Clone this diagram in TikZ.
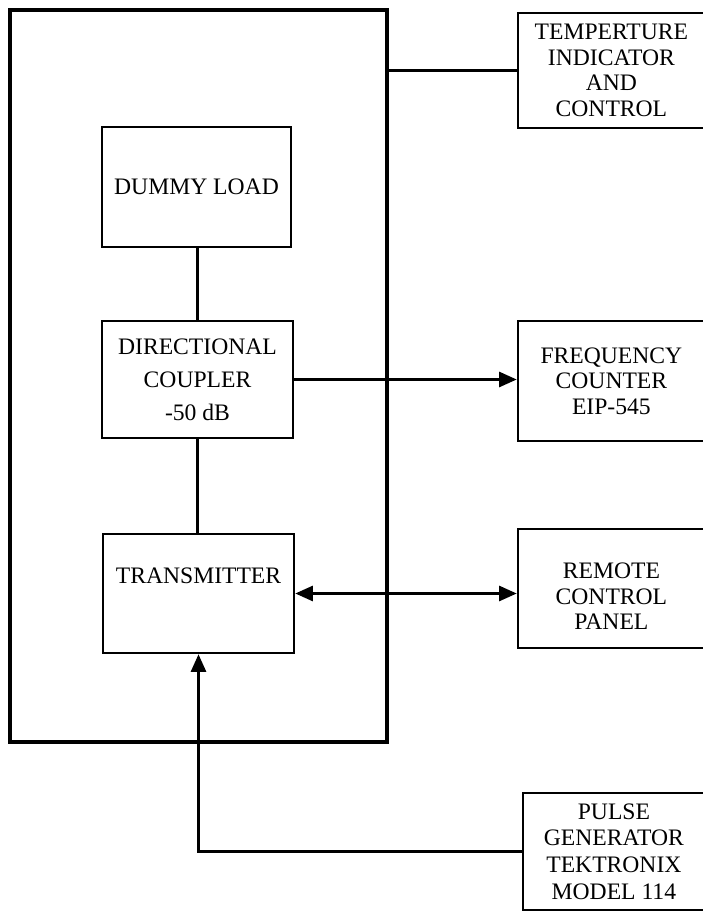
\documentclass[tikz,border=0pt]{standalone}
\usepackage{fontspec}
\setmainfont{Liberation Serif}
\usetikzlibrary{arrows.meta}
\tikzset{
  rackbox/.style={draw,line width=2.8pt,inner sep=0pt},
  unitbox/.style={draw,line width=1.9pt,inner sep=0pt,align=center,
    font=\fontsize{16.8}{18.1}\selectfont},
  link/.style={line width=1.6pt},
  sigarrow/.style={-{Triangle[length=4.4mm,width=3.8mm]},line width=1.6pt},
  twoway/.style={{Triangle[length=4.4mm,width=3.8mm]}-{Triangle[length=4.4mm,width=3.8mm]},line width=1.6pt},
}

\begin{document}
\begin{tikzpicture}[x=1cm,y=1cm]
  \useasboundingbox (0,0) rectangle (17.55,22.775);

  % Test rack with the units under test.
  \node[rackbox,minimum width=9.425cm,minimum height=18.3cm] (rack) at (4.9625,13.375) {};
  \node[unitbox,minimum width=4.725cm,minimum height=3.0cm] (dl) at (4.9125,18.1)
    {DUMMY LOAD};
  \node[unitbox,minimum width=4.775cm,minimum height=2.925cm,
    font=\fontsize{16.8}{23.5}\selectfont] (dc) at (4.9375,13.2875)
    {DIRECTIONAL\\COUPLER\\-50 dB};
  \node[unitbox,minimum width=4.775cm,minimum height=2.975cm,
    label={[font=\fontsize{16.8}{18.1}\selectfont,yshift=.44cm]center:TRANSMITTER}] (tx)
    at (4.9625,7.9375) {};

  % Instruments outside the rack.
  \node[unitbox,minimum width=4.67cm,minimum height=2.875cm] (tc) at (15.285,21.0125)
    {TEMPERTURE\\INDICATOR\\AND\\CONTROL};
  \node[unitbox,minimum width=4.67cm,minimum height=3.0cm] (fc) at (15.285,13.25)
    {FREQUENCY\\COUNTER\\EIP-545};
  \node[unitbox,minimum width=4.67cm,minimum height=2.975cm,
    label={[font=\fontsize{16.8}{18.1}\selectfont,align=center,yshift=-.2cm]center:REMOTE\\CONTROL\\PANEL}] (rc)
    at (15.285,8.0625) {};
  \node[unitbox,minimum width=4.545cm,minimum height=2.925cm,
    font=\fontsize{16.8}{19}\selectfont] (pg) at (15.3475,1.4875)
    {PULSE\\GENERATOR\\TEKTRONIX\\MODEL 114};

  % Connections.
  \draw[link] (tc.west) -- (tc.west -| rack.east);
  \draw[link] (dc.north) -- (dc.north |- dl.south);
  \draw[link] (dc.south) -- (dc.south |- tx.north);
  \draw[sigarrow] (dc.east) -- (dc.east -| fc.west);
  \draw[twoway] (tx.east) -- (tx.east -| rc.west);
  \draw[sigarrow] (pg.west) -| (tx.south);
\end{tikzpicture}
\end{document}
